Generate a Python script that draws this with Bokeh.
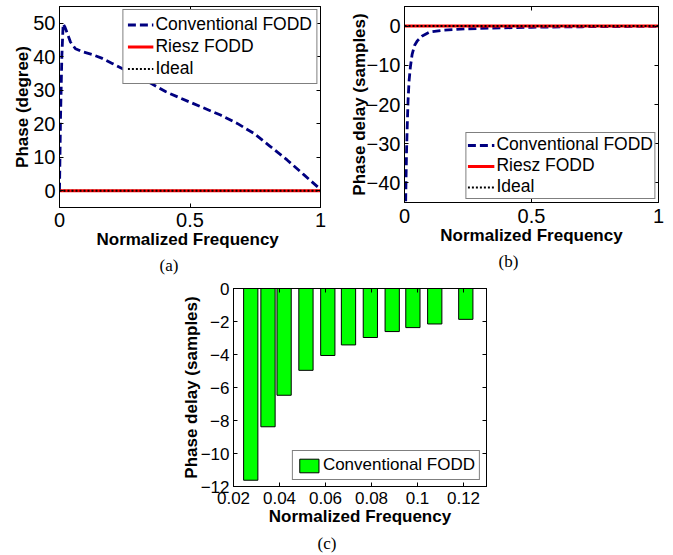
from bokeh.plotting import figure
from bokeh.models import (Legend, LegendItem, LinearAxis, Range1d, FixedTicker,
                          NumeralTickFormatter, CustomJSTickFormatter, Title)
from bokeh.layouts import column, row
from bokeh.embed import file_html
from bokeh.resources import INLINE

# ---------------- data ----------------
# (a) phase response
freq_a = [0.0, 0.004, 0.009, 0.014, 0.02, 0.029, 0.042, 0.061, 0.087, 0.125, 0.164,
          0.202, 0.24, 0.317, 0.406, 0.495, 0.617, 0.681, 0.745, 0.808, 0.872, 0.936, 1.0]
phase_conv_a = [0.0, 22.0, 40.0, 49.8, 49.0, 47.2, 44.4, 42.4, 41.5, 40.7, 39.5,
                38.0, 36.5, 33.5, 29.6, 26.6, 22.6, 20.1, 17.1, 13.2, 9.2, 4.8, 0.4]
freq_flat = [0.0, 1.0]
phase_riesz_a = [0.0, 0.0]
phase_ideal_a = [0.0, 0.0]

# (b) phase delay
freq_b = [0.002, 0.005, 0.008, 0.011, 0.014, 0.018, 0.023, 0.03, 0.04, 0.05, 0.07,
          0.1, 0.155, 0.25, 0.38, 0.5, 0.7, 1.0]
delay_conv_b = [-60.0, -43.0, -32.0, -25.0, -19.0, -14.0, -10.5, -7.2, -4.9, -3.8, -2.5,
                -1.5, -1.03, -0.68, -0.45, -0.3, -0.16, -0.05]
delay_riesz_b = [0.0, 0.0]
delay_ideal_b = [0.0, 0.0]

# (c) phase delay at low frequencies
freq_c = [0.0275, 0.035, 0.042, 0.0515, 0.061, 0.070, 0.0795, 0.089, 0.098, 0.1075, 0.121]
delay_conv_c = [-11.62, -8.38, -6.47, -4.96, -4.06, -3.42, -2.97, -2.61, -2.37, -2.15, -1.87]

xticks_ab = [0, 0.5, 1]
yticks_a = [0, 10, 20, 30, 40, 50]
yticks_b = [-40, -30, -20, -10, 0]
xticks_c = [0.02, 0.04, 0.06, 0.08, 0.1, 0.12]
yticks_c = [-12, -10, -8, -6, -4, -2, 0]

SANS = "Liberation Sans"
SERIF = "Liberation Serif"
CONV_COLOR = "#000080"


def make_fig(width, height, xr, yr, xticks, yticks, borders, tick_size,
             xlabel, ylabel, x_std, ylab_std, caption, cap_offset, cap_std):
    ml, mr, mt, mb = borders
    p = figure(width=width, height=height, x_range=Range1d(*xr), y_range=Range1d(*yr),
               output_backend="svg", toolbar_location=None,
               min_border_left=ml, min_border_right=mr, min_border_top=mt,
               min_border_bottom=mb)
    p.xgrid.visible = False
    p.ygrid.visible = False
    p.outline_line_color = "black"
    p.outline_line_width = 1
    p.outline_line_alpha = 1
    p.background_fill_color = "white"
    p.border_fill_color = "white"

    for ax, ticks in ((p.xaxis[0], xticks), (p.yaxis[0], yticks)):
        ax.ticker = FixedTicker(ticks=ticks, minor_ticks=[])
        ax.major_tick_in = 4
        ax.major_tick_out = 0
        ax.minor_tick_in = 0
        ax.minor_tick_out = 0
        ax.axis_line_color = "black"
        ax.major_tick_line_color = "black"
        ax.major_label_text_font = SANS
        ax.major_label_text_font_size = tick_size
        ax.major_label_text_color = "black"
        ax.axis_label_text_font = SANS
        ax.axis_label_text_font_size = "17px"
        ax.axis_label_text_font_style = "bold"
        ax.axis_label_text_color = "black"
    p.xaxis[0].formatter = NumeralTickFormatter(format="0.[00]")
    p.xaxis[0].axis_label = xlabel
    p.yaxis[0].axis_label = ylabel
    p.xaxis[0].major_label_standoff = x_std
    p.xaxis[0].axis_label_standoff = 0
    p.yaxis[0].major_label_standoff = 4
    p.yaxis[0].axis_label_standoff = ylab_std

    # box ticks on top and right (MATLAB style)
    for side, ticks in (("right", yticks), ("above", xticks)):
        ax = LinearAxis(ticker=FixedTicker(ticks=ticks, minor_ticks=[]),
                        formatter=CustomJSTickFormatter(code="return ''"))
        ax.major_tick_in = 4
        ax.major_tick_out = 0
        ax.minor_tick_in = 0
        ax.minor_tick_out = 0
        ax.major_label_standoff = 0
        ax.major_label_text_font_size = "1px"
        ax.axis_line_color = "black"
        ax.major_tick_line_color = "black"
        p.add_layout(ax, side)

    # sub-figure caption below the axis title
    p.add_layout(Title(text=caption, align="left", offset=cap_offset,
                       text_font=SERIF, text_font_size="17px",
                       text_font_style="normal", text_color="black",
                       standoff=cap_std), "below")
    return p


def style_legend(leg, font_size, gw, gh, loc, margin, padding, spacing):
    leg.location = loc
    leg.margin = margin
    leg.padding = padding
    leg.spacing = spacing
    leg.border_line_color = "black"
    leg.border_line_width = 1
    leg.background_fill_color = "white"
    leg.background_fill_alpha = 1
    leg.label_text_font = SANS
    leg.label_text_font_size = font_size
    leg.label_text_color = "black"
    leg.glyph_width = gw
    leg.glyph_height = gh
    leg.label_height = gh
    leg.label_standoff = 2


# ---------------- (a) ----------------
pa = make_fig(340, 278, (0, 1), (-5, 55), xticks_ab, yticks_a, (59, 20, 6, 71), "20px",
              "Normalized  Frequency", "Phase (degree)", 5, -2, "(a)", 100, 4)
a1 = pa.line(freq_a, phase_conv_a, line_color=CONV_COLOR, line_width=2.8, line_dash="8 4")
a2 = pa.line(freq_flat, phase_riesz_a, line_color="red", line_width=3)
a3 = pa.line(freq_flat, phase_ideal_a, line_color="black", line_width=2, line_dash="2 2")
leg_a = Legend(items=[LegendItem(label="Conventional FODD", renderers=[a1]),
                      LegendItem(label="Riesz FODD", renderers=[a2]),
                      LegendItem(label="Ideal", renderers=[a3])])
style_legend(leg_a, "17.5px", 26, 21, "top_right", 3, 4, 1)
pa.add_layout(leg_a)

# ---------------- (b) ----------------
pb = make_fig(333, 273, (0, 1), (-45, 5), xticks_ab, yticks_b, (64, 15, 6, 71), "20px",
              "Normalized Frequency", "Phase delay (samples)", 6, -5, "(b)", 94, 4)
b1 = pb.line(freq_b, delay_conv_b, line_color=CONV_COLOR, line_width=2.8, line_dash="8 4")
b2 = pb.line(freq_flat, delay_riesz_b, line_color="red", line_width=3)
b3 = pb.line(freq_flat, delay_ideal_b, line_color="black", line_width=2, line_dash="2 2")
leg_b = Legend(items=[LegendItem(label="Conventional FODD", renderers=[b1]),
                      LegendItem(label="Riesz FODD", renderers=[b2]),
                      LegendItem(label="Ideal", renderers=[b3])])
style_legend(leg_b, "17.5px", 27, 18, "bottom_right", 3, 1, 0)
pb.add_layout(leg_b)

# ---------------- (c) ----------------
pc = make_fig(510, 277, (0.02, 0.13), (-12, 0), xticks_c, yticks_c, (233, 24, 10, 69), "17px",
              "Normalized Frequency", "Phase delay (samples)", 5, -3, "(c)", 84, 6)
c1 = pc.vbar(x=freq_c, top=0, bottom=delay_conv_c, width=0.0062,
             fill_color="#00ff00", line_color="black", line_width=1)
leg_c = Legend(items=[LegendItem(label="Conventional FODD", renderers=[c1])])
style_legend(leg_c, "17px", 24, 17, "bottom_right", 6, 4, 1)
pc.add_layout(leg_c)

layout = column(row(pa, pb), pc)
open("out.html", "w").write(file_html(layout, INLINE))
